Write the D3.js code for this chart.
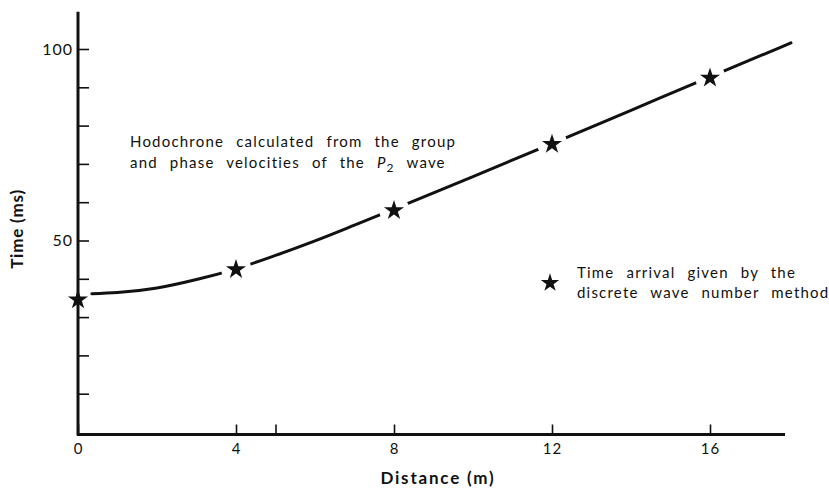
<!DOCTYPE html>
<html>
<head>
<meta charset="utf-8">
<script src="https://cdn.jsdelivr.net/npm/d3@7"></script>
<style>
  body { margin: 0; background: #fff; }
  svg text { font-family: Lato, "DejaVu Sans", sans-serif; fill: #111; }
</style>
</head>
<body>
<svg id="chart" width="829" height="493"></svg>
<script>
// hodochrone curve (distance m, time ms)
var curveX = [0.35, 1, 2, 3, 4, 5, 6, 7, 8, 10, 12, 14, 16, 18.05],
    curveT = [36.1, 36.4, 37.6, 39.8, 42.6, 46.1, 49.9, 54.0, 58.2, 66.7, 75.3, 84.0, 92.7, 101.6];

// discrete wave number method arrivals
var starX = [0, 4, 8, 12, 16],
    starT = [34.8, 42.7, 58.1, 75.4, 92.7];

var xTicks = [0, 4, 5, 8, 12, 16],
    xLabels = ["0", "4", "", "8", "12", "16"],
    yTicks = [10, 20, 30, 40, 50, 60, 70, 80, 90, 100],
    yLabels = {50: "50", 100: "100"};

var svg = d3.select('#chart'),
    x = d3.scaleLinear().domain([0, 16]).range([78, 710]),
    y = d3.scaleLinear().domain([0, 100]).range([432, 49]);

var axisY0 = 434.5; // where the x axis sits

// x axis
var gx = svg.append("g").attr("transform", "translate(0," + axisY0 + ")")
    .call(d3.axisBottom(x).tickValues(xTicks).tickSize(-10).tickPadding(9)
        .tickFormat(function(d, i) { return xLabels[i]; }));
gx.select(".domain").remove();
gx.selectAll(".tick line").attr("stroke", "#111").attr("stroke-width", 1.6);
gx.selectAll(".tick text").style("font-size", "15px").style("letter-spacing", "1px");
gx.append("line")
    .attr("x1", x(0) - 1).attr("x2", x(17.9))
    .attr("y1", 0).attr("y2", 0)
    .attr("stroke", "#111").attr("stroke-width", 3);

// y axis
var gy = svg.append("g").attr("transform", "translate(" + x(0) + ",0)")
    .call(d3.axisLeft(y).tickValues(yTicks).tickSize(-11).tickPadding(5)
        .tickFormat(function(d) { return yLabels[d] || ""; }));
gy.select(".domain").remove();
gy.selectAll(".tick line").attr("stroke", "#111").attr("stroke-width", 1.6);
gy.selectAll(".tick text").style("font-size", "16px").style("letter-spacing", "1px");
gy.append("line")
    .attr("x1", 0).attr("x2", 0)
    .attr("y1", y(109.7)).attr("y2", axisY0 + 1)
    .attr("stroke", "#111").attr("stroke-width", 3);

// curve
var pts = curveX.map(function(d, i) { return [d, curveT[i]]; });
var line = d3.line()
    .x(function(d) { return x(d[0]); })
    .y(function(d) { return y(d[1]); })
    .curve(d3.curveMonotoneX);

svg.append("path").datum(pts)
    .attr("d", line)
    .attr("fill", "none")
    .attr("stroke", "#111")
    .attr("stroke-width", 3)
    .attr("stroke-linecap", "round");

// white gaps around the stars (only cutting the curve)
var stars = starX.map(function(d, i) { return [d, starT[i]]; });
svg.append("g").selectAll("circle").data(stars.slice(1)).enter().append("circle")
    .attr("cx", function(d) { return x(d[0]); })
    .attr("cy", function(d) { return y(d[1]); })
    .attr("r", 15)
    .attr("fill", "#fff");

var star = d3.symbol().type(d3.symbolStar).size(125);
svg.append("g").selectAll("path").data(stars).enter().append("path")
    .attr("d", star)
    .attr("transform", function(d) { return "translate(" + x(d[0]) + "," + (y(d[1]) + 1) + ")"; })
    .attr("fill", "#111");

// axis titles
svg.append("text")
    .attr("x", 438).attr("y", 484)
    .attr("text-anchor", "middle")
    .style("font-size", "17px").attr("font-weight", 700).style("letter-spacing", "1.8px")
    .text("Distance (m)");

svg.append("text")
    .attr("transform", "translate(23,229) rotate(-90)")
    .attr("text-anchor", "middle")
    .style("font-size", "17px").attr("font-weight", 700).style("letter-spacing", "0.8px")
    .text("Time (ms)");

// annotation
var ann = svg.append("g").style("font-size", "15px")
    .style("word-spacing", "7px").style("letter-spacing", "1.2px");
ann.append("text").attr("x", 130).attr("y", 147).text("Hodochrone calculated from the group");
var t2 = ann.append("text").attr("x", 130).attr("y", 168);
t2.append("tspan").text("and phase velocities of the ");
t2.append("tspan").style("font-style", "italic").text("P");
t2.append("tspan").attr("dy", 4).style("font-size", "12px").text("2");
t2.append("tspan").attr("dy", -4).text(" wave");

// legend
svg.append("path")
    .attr("d", d3.symbol().type(d3.symbolStar).size(105))
    .attr("transform", "translate(550,283)")
    .attr("fill", "#111");
var leg = svg.append("g").style("font-size", "15px")
    .style("word-spacing", "7px").style("letter-spacing", "1.2px");
leg.append("text").attr("x", 577).attr("y", 278).text("Time arrival given by the");
leg.append("text").attr("x", 577).attr("y", 298).text("discrete wave number method");
</script>
</body>
</html>
